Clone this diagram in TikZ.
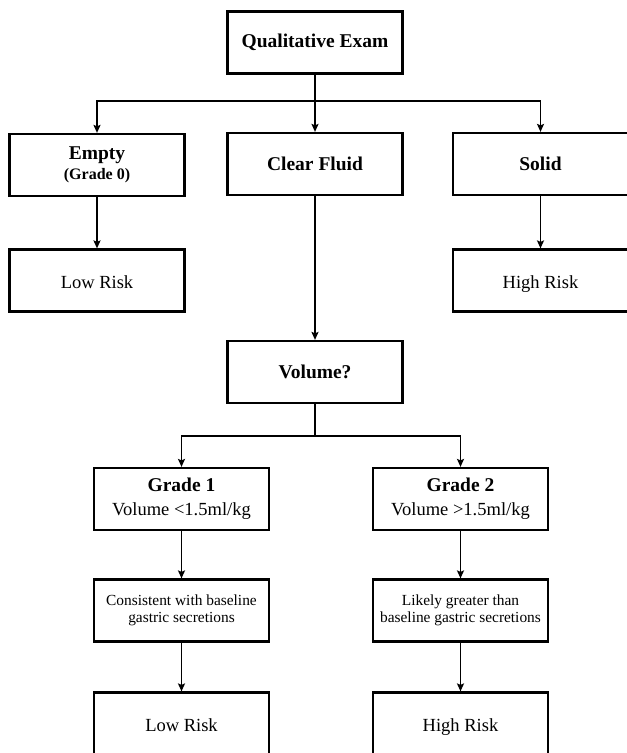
\documentclass[tikz,border=0pt]{standalone}
\usepackage{fontspec}
\setmainfont{Liberation Serif}
\usetikzlibrary{arrows.meta}
\begin{document}
\begin{tikzpicture}[x=1pt,y=-1pt,
    box/.style={draw,line width=2.2pt,minimum width=175pt,minimum height=62pt,
      inner sep=2pt,align=center,font=\fontsize{18.5}{21}\selectfont},
    hd/.style={font=\fontsize{19.5}{22}\selectfont\bfseries},
    sm/.style={font=\fontsize{15.4}{16.5}\selectfont},
    one/.style={text height=20pt,text depth=4pt},
    ln/.style={line width=1.6pt},
    arr/.style={line width=1.6pt,-{Stealth[length=8pt,width=7pt,inset=1.5pt]}}]
  \useasboundingbox (0,0) rectangle (627,753);
  % ---- first exam and the three findings ----
  \node[box,hd] (exam) at (315,42.5) {Qualitative Exam};
  \node[box] (empty) at (97,165)
    {{\fontsize{19.5}{22}\selectfont\bfseries Empty}\\[-1pt]
     {\fontsize{16}{18}\selectfont\bfseries (Grade 0)}};
  \node[box,hd] (fluid) at (315,164) {Clear Fluid};
  \node[box,hd] (solid) at (540.5,164) {Solid};
  \node[box,one] (low1) at (97,280.5) {Low Risk};
  \node[box,one] (high1) at (540.5,280.5) {High Risk};
  \coordinate (bar1) at (315,101);
  \draw[ln] (exam) -- (bar1);
  \draw[arr] (bar1) -| (empty.north);
  \draw[arr] (bar1) -- (fluid);
  \draw[arr] (bar1) -| (solid.north);
  \draw[arr] (empty) -- (low1);
  \draw[arr] (solid) -- (high1);
  % ---- clear fluid: check the volume ----
  \node[box,hd] (vol) at (315,372) {Volume?};
  \draw[arr] (fluid) -- (vol);
  \node[box] (g1) at (181.5,499)
    {{\fontsize{19.5}{22}\selectfont\bfseries Grade 1}\\[3pt]Volume <1.5ml/kg};
  \node[box] (g2) at (460.5,499)
    {{\fontsize{19.5}{22}\selectfont\bfseries Grade 2}\\[3pt]Volume >1.5ml/kg};
  \node[box,sm] (cons) at (181.5,610.5) {Consistent with baseline\\gastric secretions};
  \node[box,sm] (likely) at (460.5,610.5) {Likely greater than\\baseline gastric secretions};
  \node[box,one] (low2) at (181.5,723.5) {Low Risk};
  \node[box,one] (high2) at (460.5,723.5) {High Risk};
  \coordinate (bar2) at (315,436);
  \draw[ln] (vol) -- (bar2);
  \draw[arr] (bar2) -| (g1.north);
  \draw[arr] (bar2) -| (g2.north);
  \draw[arr] (g1) -- (cons);
  \draw[arr] (cons) -- (low2);
  \draw[arr] (g2) -- (likely);
  \draw[arr] (likely) -- (high2);
\end{tikzpicture}
\end{document}
